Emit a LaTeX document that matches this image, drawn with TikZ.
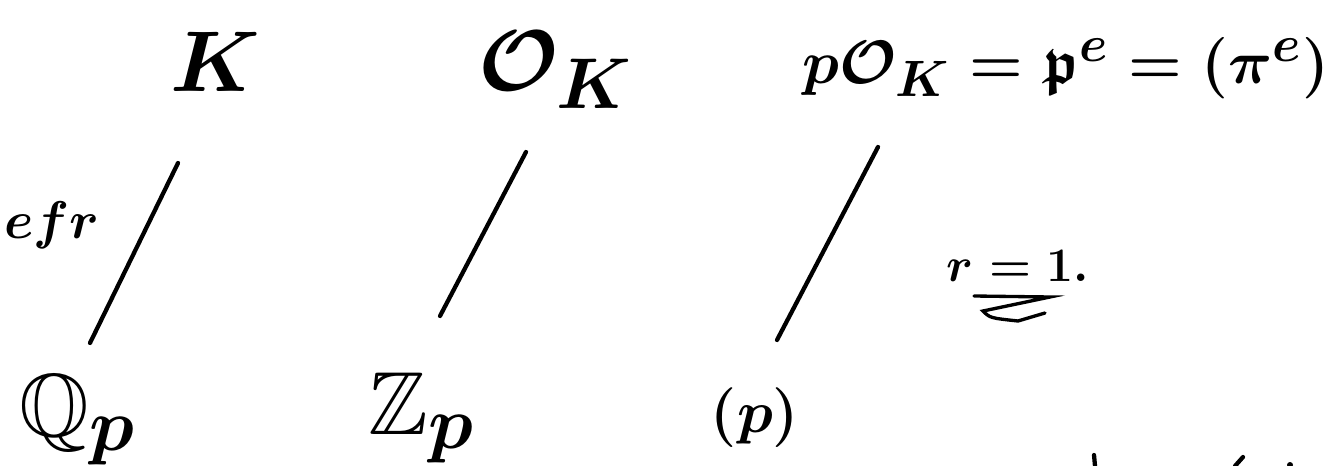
\documentclass[tikz,border=0pt]{standalone}
\usepackage{graphicx}
\usepackage{amssymb}
\newcommand{\hwscale}[2]{\scalebox{#1}{#2}}
\begin{document}
\begin{tikzpicture}[x=0.75pt,y=-0.75pt,
  lbl/.style={inner sep=0pt, font=\Huge\boldmath},
  edge/.style={line width=3.2pt, line cap=round}]
\useasboundingbox (0,0) rectangle (1333,466);
% top row
\node[lbl] (K) at (215,62) {\hwscale{2.6}{$K$}};
\node[lbl] (OK) at (556,70) {\hwscale{2.6}{$\mathcal{O}_K$}};
\node[lbl] (pOK) at (1066,68) {\hwscale{1.85}{$p\mathcal{O}_K=\mathfrak{p}^{e}=(\pi^{e})$}};
% bottom row
\node[lbl] (Qp) at (78,420) {\hwscale{2.7}{$\mathbb{Q}_p$}};
\node[lbl] (Zp) at (422,418) {\hwscale{2.7}{$\mathbb{Z}_p$}};
\node[lbl] (p) at (755,418) {\hwscale{1.8}{$(p)$}};
% labels
\node[lbl] (efr) at (52,225) {\hwscale{1.6}{$efr$}};
\node[lbl] (r1) at (1018,266) {\hwscale{1.45}{$r=1.$}};
% connectors
\coordinate (a1) at (178,163); \coordinate (b1) at (90,343);
\coordinate (a2) at (526,152); \coordinate (b2) at (440,316);
\coordinate (a3) at (878,147); \coordinate (b3) at (777,340);
\draw[edge] (a1) -- (b1);
\draw[edge] (a2) -- (b2);
\draw[edge] (a3) -- (b3);
% double underline under r=1
\coordinate (u1) at (974,296); \coordinate (u2) at (1050,297);
\coordinate (u3) at (983,311); \coordinate (u4) at (1045,313);
\draw[edge, line width=2.5pt] (u1) -- (u2) -- (u3) .. controls (990,318) .. (1018,321) -- (u4);
% cut-off strokes at bottom edge
\coordinate (f1) at (1094,455); \coordinate (f2) at (1095,466);
\coordinate (f3) at (1243,457); \coordinate (f4) at (1235,466);
\draw[edge] (f1) -- (f2);
\draw[edge] (f3) -- (f4);
\fill (1290,465) circle (3);
\end{tikzpicture}
\end{document}
